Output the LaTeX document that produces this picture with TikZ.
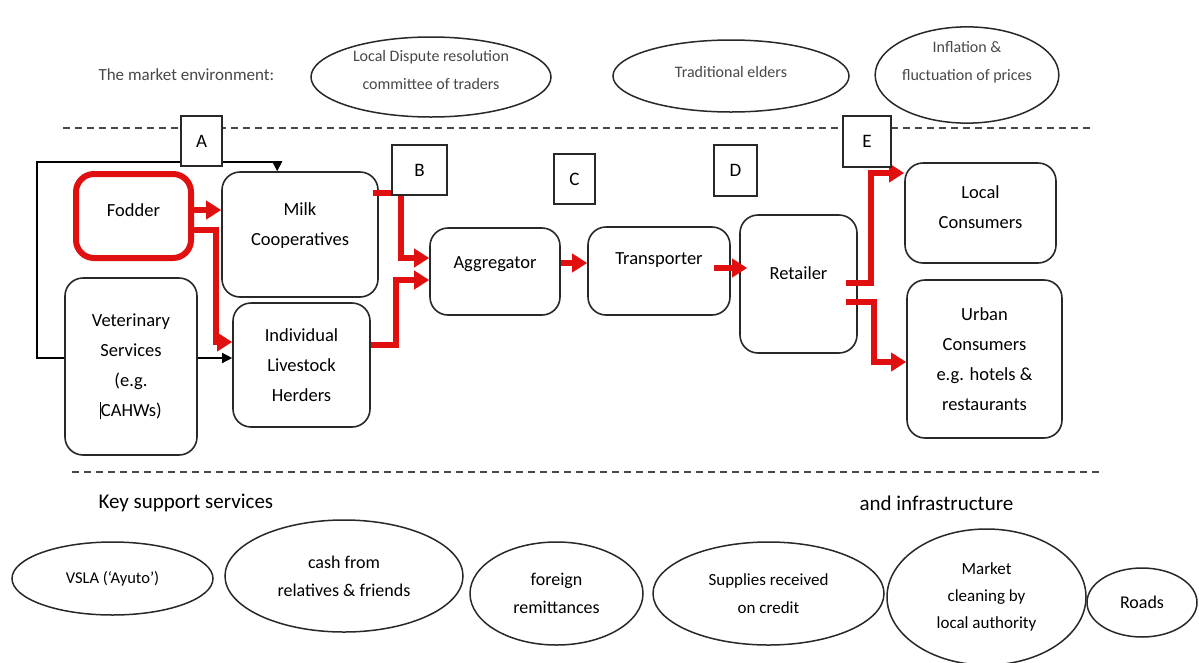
\documentclass[tikz,border=0pt]{standalone}
\usepackage{fontspec}
\setmainfont{Carlito}
\usetikzlibrary{shapes.geometric,arrows.meta,calc}
\definecolor{flowred}{RGB}{224,16,16}
\definecolor{ink}{RGB}{40,40,40}
\tikzset{
  box/.style={draw=ink, line width=1.6pt, rounded corners=18pt, align=center,
    font=\fontsize{18.5}{30}\selectfont, inner sep=2pt},
  redbox/.style={box, draw=flowred, line width=6pt},
  letter/.style={draw=ink, fill=white, line width=1.4pt, inner sep=0pt,
    font=\fontsize{19}{22}\selectfont},
  oval/.style={ellipse, draw=ink, line width=1.5pt, inner sep=0pt, align=center},
  topfont/.style={font=\fontsize{16}{27}\selectfont, text=ink!85},
  botfont/.style={font=\fontsize{18}{28}\selectfont},
  divider/.style={draw=ink!85, line width=1.5pt, dash pattern=on 7pt off 5pt},
  redflow/.style={draw=flowred, line width=6pt, -{Triangle[length=15pt,width=18pt]}},
  blackflow/.style={draw=black, line width=1.3pt, -{Triangle[length=10pt,width=10pt]}},
  blackline/.style={draw=black, line width=1.3pt},
}
\begin{document}
\begin{tikzpicture}[x=1pt,y=-1pt]
\useasboundingbox[fill=white] (0,0) rectangle (1199,662);

% market environment
\node[topfont, font=\fontsize{17}{27}\selectfont, anchor=west] (envlabel) at (95,75) {The market environment:};
\node[oval, topfont, font=\fontsize{16}{28}\selectfont, minimum width=240pt, minimum height=80pt] (dispute) at (431,77)
  {Local Dispute resolution\\committee of traders\\[-14pt]\mbox{}};
\node[oval, topfont, minimum width=236pt, minimum height=72pt, text depth=8pt] (elders) at (731,76)
  {Traditional elders};
\node[oval, topfont, font=\fontsize{16}{28}\selectfont, minimum width=182pt, minimum height=86pt] (inflation) at (967,75)
  {Inflation \&\\fluctuation of prices\\[1pt]\mbox{}};

% dividers
\coordinate (topL) at (63,128);
\coordinate (topR) at (1090,128);
\coordinate (botL) at (72,472);
\coordinate (botR) at (1100,472);
\draw[divider] (topL) -- (topR);
\draw[divider] (botL) -- (botR);

% value chain actors
\node[redbox, minimum width=115pt, minimum height=84pt, text depth=11pt] (fodder) at (133.5,216) {Fodder};
\node[box, minimum width=156pt, minimum height=125pt] (milk) at (300,234.5) {Milk\\Cooperatives\\[-10pt]\mbox{}};
\node[box, minimum width=137pt, minimum height=124pt] (herd) at (301.5,365) {Individual\\Livestock\\Herders};
\node[box, minimum width=132pt, minimum height=177pt] (vet) at (131,366.5)
  {Veterinary\\Services\\(e.g.\\\rule[-0.15em]{0.6pt}{0.95em}CAHWs)};
\node[box, minimum width=130pt, minimum height=87pt, text depth=18pt] (agg) at (495,271.5) {Aggregator};
\node[box, minimum width=142pt, minimum height=88pt, text depth=25pt] (trans) at (659,271) {Transporter};
\node[box, minimum width=117pt, minimum height=138pt, text depth=21pt] (ret) at (798.5,284) {Retailer};
\node[box, minimum width=151pt, minimum height=100pt] (local) at (980.5,213) {Local\\Consumers\\[-18pt]\mbox{}};
\node[box, minimum width=155pt, minimum height=158pt] (urban) at (984.5,359)
  {Urban\\Consumers\\e.g. hotels \&\\restaurants};

% black support loop
\coordinate (loopBL) at (37,358);
\coordinate (loopTL) at (37,162);
\draw[blackline] (vet.west |- loopBL) -- (loopBL) -- (loopTL) -- (201,162);
\draw[blackflow] (201,162) -| ($(milk.north west)+(56,0)$);
\draw[blackflow] (vet.east |- loopBL) -- (herd.west |- loopBL);

% red product flows
\coordinate (f1) at ($(fodder.east)+(0,-6)$);
\draw[redflow] (f1) -- (milk.west |- f1);
\coordinate (f2) at ($(fodder.east)+(0,14)$);
\draw[redflow] (f2) -- ++(22,0) |- ($(herd.west)+(0,-23)$);
\coordinate (m1) at ($(milk.east)+(-6,-41.5)$);
\draw[redflow] (m1) -- ++(28,0) |- ($(agg.west)+(0,-13.5)$);
\coordinate (h1) at ($(herd.east)+(0,-20)$);
\draw[redflow] (h1) -- ++(25,0) |- ($(agg.west)+(0,8.5)$);
\coordinate (a1) at ($(agg.east)+(0,-8.5)$);
\draw[redflow] (a1) -- (trans.west |- a1);
\coordinate (t1) at ($(trans.east)+(-17,-3)$);
\draw[redflow] (t1) -- ($(ret.west |- t1)+(8,0)$);
\coordinate (r1) at ($(ret.east)+(-12,-1)$);
\draw[redflow] (r1) -- ++(25,0) |- ($(local.west)+(0,-40)$);
\coordinate (r2) at ($(ret.east)+(-12,18)$);
\draw[redflow] (r2) -- ++(28,0) |- ($(urban.west)+(0,3)$);

% stage markers
\node[letter, minimum width=41pt, minimum height=50pt] (A) at (201.5,141) {A};
\node[letter, minimum width=55pt, minimum height=50pt] (B) at (419.5,170) {B};
\node[letter, minimum width=41pt, minimum height=50pt] (C) at (574.5,179) {C};
\node[letter, minimum width=43pt, minimum height=51pt] (D) at (735.5,170.5) {D};
\node[letter, minimum width=48pt, minimum height=51pt] (E) at (867,141.5) {E};

% support services and infrastructure
\node[font=\fontsize{21}{24}\selectfont, anchor=west] (support) at (95,503) {Key support services};
\node[font=\fontsize{21}{24}\selectfont, anchor=west] (infra) at (856,503) {and infrastructure};
\node[oval, botfont, font=\fontsize{16.5}{28}\selectfont, minimum width=201pt, minimum height=73pt] (vsla) at (112.5,578.5) {VSLA (‘Ayuto’)};
\node[oval, botfont, minimum width=238pt, minimum height=112pt] (cash) at (344,576) {cash from\\relatives \& friends};
\node[oval, botfont, minimum width=173pt, minimum height=103pt] (foreign) at (556.5,593.5) {foreign\\remittances};
\node[oval, botfont, font=\fontsize{17}{28}\selectfont, minimum width=231pt, minimum height=103pt] (supplies) at (768.5,593.5) {Supplies received\\on credit};
\node[oval, botfont, font=\fontsize{17}{27}\selectfont, minimum width=199pt, minimum height=136pt] (cleaning) at (986.5,597) {Market\\cleaning by\\local authority};
\node[oval, botfont, minimum width=110pt, minimum height=69pt] (roads) at (1142,602.5) {Roads};
\end{tikzpicture}
\end{document}
